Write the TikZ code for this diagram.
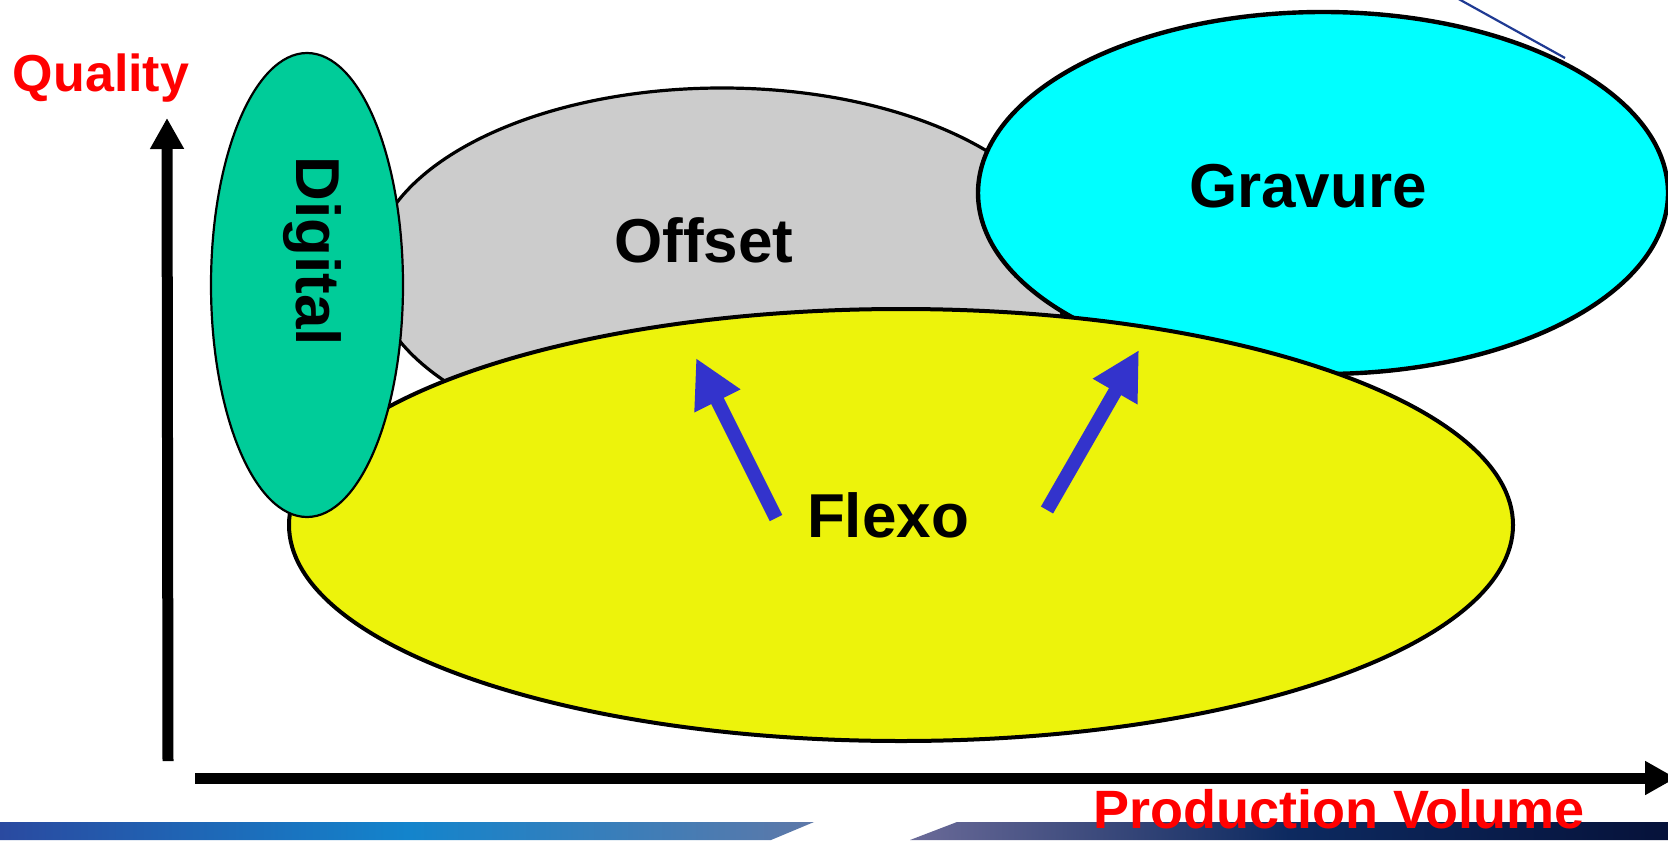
\documentclass[tikz,border=0pt]{standalone}
\usepackage{fontspec}
\setmainfont{Liberation Sans}
\usetikzlibrary{shapes.geometric, arrows.meta}
\definecolor{digi}{HTML}{00CC99}
\definecolor{offs}{HTML}{CCCCCC}
\definecolor{grav}{HTML}{00FFFF}
\definecolor{flex}{HTML}{EDF30B}
\definecolor{arrblue}{HTML}{3333CC}
\definecolor{linblue}{HTML}{1F3A93}
\definecolor{bandA}{HTML}{2A4AA0}
\definecolor{bandB}{HTML}{1384CC}
\definecolor{bandC}{HTML}{5E78A8}
\definecolor{bandD}{HTML}{6A6A98}
\definecolor{bandE}{HTML}{0D2A60}
\definecolor{bandF}{HTML}{06123A}
\tikzset{
  blob/.style={ellipse, draw=black, inner sep=0pt, outer sep=0pt},
  bigtxt/.style={font=\fontsize{31}{36}\selectfont\bfseries, inner sep=0pt, anchor=base},
  axtxt/.style={font=\fontsize{26}{30}\selectfont\bfseries, text=red, inner sep=0pt, anchor=base},
  axis/.style={line width=5.5pt, -{Triangle[length=15.5pt, width=16pt]}},
  pusharrow/.style={line width=7pt, arrblue, -{Triangle[length=24pt, width=24pt]}}
}
\begin{document}
\begin{tikzpicture}[x=0.5pt,y=-0.5pt]
\useasboundingbox (0,0) rectangle (1668,840);
\fill[white] (0,0) rectangle (1668,840);

% banner at bottom
\shade[left color=bandA, right color=bandC, middle color=bandB] (0,822) -- (814,822) -- (771,840) -- (0,840) -- cycle;
\shade[left color=bandD, right color=bandF, middle color=bandE] (957,822) -- (1668,822) -- (1668,840) -- (910,840) -- cycle;

% thin line at top right
\coordinate (ls) at (1455,-3);
\coordinate (le) at (1565,58);
\draw[linblue, line width=1.1pt] (ls) -- (le);

% ellipses
\node[blob, fill=offs, line width=1.6pt, minimum width=350pt, minimum height=182pt] (offset) at (722,270) {};
\node[blob, fill=grav, line width=2.2pt, minimum width=345pt, minimum height=181pt] (gravure) at (1323,193) {};
\node[blob, fill=flex, line width=2pt, minimum width=612pt, minimum height=216pt] (flexo) at (901,525) {};
\node[blob, fill=digi, line width=1.1pt, minimum width=96pt, minimum height=232pt] (digital) at (307,285) {};

% labels
\node[bigtxt] (toffset) at (704,262) {Offset};
\node[bigtxt] (tgravure) at (1308,207) {Gravure};
\node[bigtxt] (tflexo) at (888,537) {Flexo};
\node[bigtxt, rotate=-90] (tdigital) at (296,251) {Digital};

% blue arrows
\coordinate (a1s) at (776,518);
\coordinate (a1e) at (696,358);
\coordinate (a2s) at (1047,510);
\coordinate (a2e) at (1139,350);
\draw[pusharrow] (a1s) -- (a1e);
\draw[pusharrow] (a2s) -- (a2e);

% axes
\coordinate (yo) at (168,761);
\coordinate (yt) at (167,118);
\coordinate (xo) at (195,778);
\coordinate (xt) at (1676,778);
\draw[axis] (yo) -- (yt);
\draw[axis] (xo) -- (xt);

\node[axtxt] (quality) at (101,91) {Quality};
\node[axtxt, font=\fontsize{27}{31}\selectfont\bfseries] (volume) at (1339,828) {Production Volume};
\end{tikzpicture}
\end{document}
